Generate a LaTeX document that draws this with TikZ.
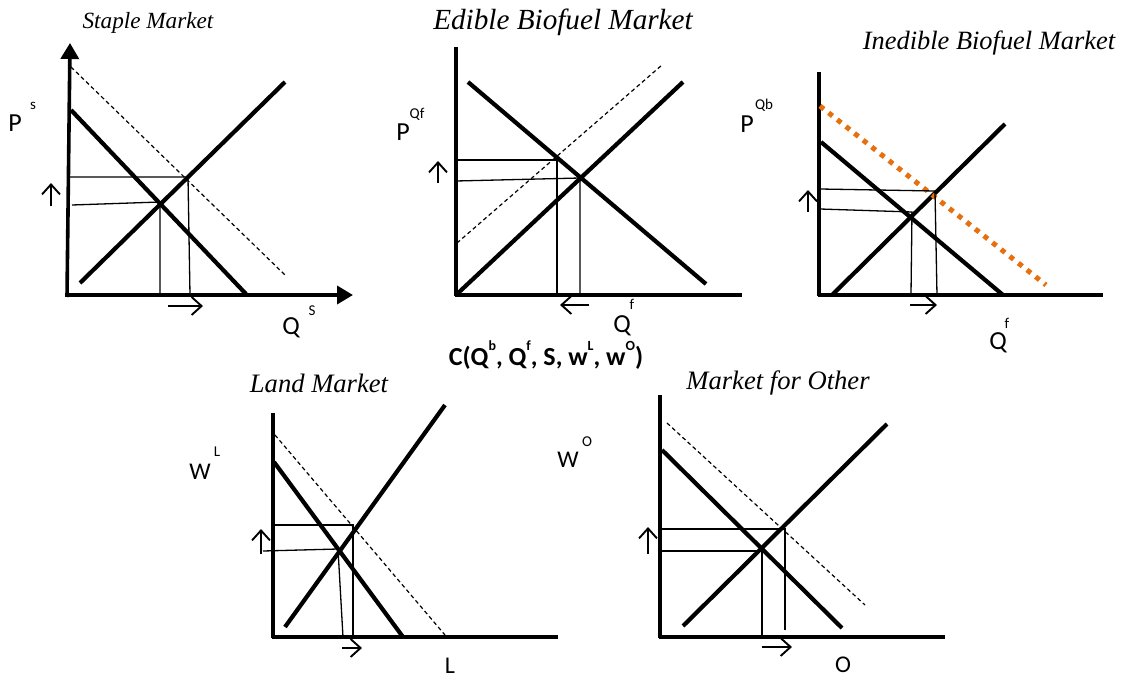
\documentclass[tikz,border=0pt]{standalone}
\usepackage{fontspec}
\setmainfont{Liberation Serif}
\newfontfamily\calibri{Carlito}
\usepackage{xcolor}
\usepackage{tikz}
\usetikzlibrary{arrows.meta}
\definecolor{bioorange}{RGB}{230,112,16}
\newcommand{\smallsup}[1]{\raisebox{0.6em}{\fontsize{7}{7}\selectfont #1}}
\tikzstyle{axisline} = [line width=1.8pt]
\tikzstyle{axisarrow} = [line width=1.8pt, -{Triangle[length=8pt,width=9pt]}]
\tikzstyle{curve} = [line width=2.1pt]
\tikzstyle{shiftcurve} = [line width=0.6pt, dash pattern=on 2pt off 1.5pt]
\tikzstyle{orangedots} = [line width=2.5pt, color=bioorange, dash pattern=on 2.5pt off 3pt]
\tikzstyle{guide} = [line width=0.65pt]
\tikzstyle{nudge} = [line width=0.95pt, -{Straight Barb[length=5pt,width=9pt]}]
\tikzstyle{axlabel} = [inner sep=0pt, font=\calibri\fontsize{13}{13}\selectfont]
\tikzstyle{axsup} = [inner sep=0pt, font=\calibri\fontsize{7.5}{7.5}\selectfont]
\tikzset{title/.style={inner sep=0pt, font=\fontsize{#1}{#1}\selectfont\itshape}}
\begin{document}
\begin{tikzpicture}[x=0.5pt, y=-0.5pt]
    \useasboundingbox (0,0) rectangle (1121,680);

    % Staple market
    \node[title=11.6] (stapletitle) at (148,23) {Staple Market};
    \draw[axisarrow] (67,297) -- (70,43);
    \draw[axisarrow] (66,295) -- (353,295);
    \draw[curve] (71,110) -- (246,294);
    \draw[curve] (80,283) -- (285,82);
    \draw[shiftcurve] (71,67) -- (285,275);
    \draw[guide] (68,177) -- (188,177) -- (190,295);
    \draw[guide] (72,205) -- (160,202) -- (160,295);
    \draw[nudge] (51,206) -- (51,183);
    \draw[nudge] (168,306) -- (203,306);
    \node[axlabel] (pstaple) at (15,123) {P};
    \node[axsup] (pstaplesup) at (33,106) {s};
    \node[axlabel] (qstaple) at (291,328) {Q};
    \node[axsup] (qstaplesup) at (312,311) {S};

    % Edible biofuel market
    \node[title=14.6] (edibletitle) at (563,22) {Edible Biofuel Market};
    \draw[axisline] (456,47) -- (456,296);
    \draw[axisline] (455,295) -- (742,295);
    \draw[curve] (456,295) -- (683,82);
    \draw[curve] (468,82) -- (706,284);
    \draw[shiftcurve] (457,243) -- (662,65);
    \draw[guide] (456,160) -- (557,160) -- (557,295);
    \draw[guide] (456,181) -- (580,178) -- (580,295);
    \draw[nudge] (438,183) -- (438,161);
    \draw[nudge] (589,305) -- (560,305);
    \node[axlabel] (pedible) at (403,132) {P};
    \node[axsup] (pediblesup) at (417,114) {Qf};
    \node[axlabel] (qedible) at (622,326) {Q};
    \node[axsup] (qediblesup) at (632,304) {f};
    \node[inner sep=0pt, font=\calibri\bfseries\fontsize{13}{13}\selectfont] (costfn) at (546,355)
        {C(Q\smallsup{b}, Q\smallsup{f}, S, w\smallsup{L}, w\smallsup{O})};

    % Inedible biofuel market
    \node[title=13.2] (inedibletitle) at (989,43) {Inedible Biofuel Market};
    \draw[axisline] (819,72) -- (819,296);
    \draw[axisline] (818,295) -- (1103,295);
    \draw[curve] (821,142) -- (1003,295);
    \draw[curve] (832,295) -- (1005,124);
    \draw[orangedots] (820,106) -- (1046,285);
    \draw[guide] (820,189) -- (935,191) -- (937,295);
    \draw[guide] (820,209) -- (912,212) -- (911,295);
    \draw[nudge] (808,212) -- (808,190);
    \draw[nudge] (910,305) -- (937,305);
    \node[axlabel] (pinedible) at (747,124) {P};
    \node[axsup] (pinediblesup) at (764,105) {Qb};
    \node[axlabel] (qinedible) at (998,343) {Q};
    \node[axsup] (qinediblesup) at (1007,323) {f};

    % Land market
    \node[title=13.3] (landtitle) at (319,383) {Land Market};
    \draw[axisline] (273,413) -- (273,638);
    \draw[axisline] (272,637) -- (558,637);
    \draw[curve] (274,462) -- (403,637);
    \draw[curve] (285,627) -- (445,405);
    \draw[shiftcurve] (275,435) -- (445,635);
    \draw[guide] (274,525) -- (353,525) -- (353,637);
    \draw[guide] (263,551) -- (338,549) -- (343,637);
    \draw[nudge] (261,554) -- (261,529);
    \draw[nudge] (342,648) -- (362,648);
    \node[axlabel, font=\calibri\fontsize{12}{12}\selectfont] (wland) at (200,472) {W};
    \node[axsup] (wlandsup) at (217,452) {L};
    \node[axlabel, font=\calibri\fontsize{12}{12}\selectfont] (lland) at (450,666) {L};

    % Market for other
    \node[title=13.3] (othertitle) at (778,383) {Market for Other};
    \draw[axisline] (660,395) -- (660,638);
    \draw[axisline] (659,637) -- (945,637);
    \draw[curve] (662,450) -- (842,628);
    \draw[curve] (683,626) -- (887,424);
    \draw[shiftcurve] (667,423) -- (865,605);
    \draw[guide] (662,529) -- (785,529) -- (785,630);
    \draw[guide] (662,551) -- (762,551) -- (762,637);
    \draw[nudge] (648,554) -- (648,527);
    \draw[nudge] (762,647) -- (792,647);
    \node[axlabel, font=\calibri\fontsize{12}{12}\selectfont] (wother) at (568,460) {W};
    \node[axsup] (wothersup) at (587,442) {O};
    \node[axlabel, font=\calibri\fontsize{12}{12}\selectfont] (oother) at (843,665) {O};
\end{tikzpicture}
\end{document}
